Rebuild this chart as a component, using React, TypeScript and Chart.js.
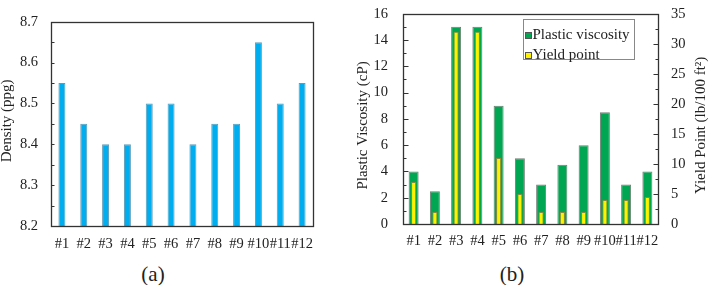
import { useEffect, useRef } from "react";
import { Chart, registerables } from "chart.js";

Chart.register(...registerables);

// Sample labels shared by both panels
const samples = ["#1", "#2", "#3", "#4", "#5", "#6", "#7", "#8", "#9", "#10", "#11", "#12"];

// Panel (a): mud density in ppg
const density = [8.55, 8.45, 8.4, 8.4, 8.5, 8.5, 8.4, 8.45, 8.45, 8.65, 8.5, 8.55];

// Panel (b): plastic viscosity (cP) and yield point (lb/100 ft²)
const plasticViscosity = [4, 2.5, 15, 15, 9, 5, 3, 4.5, 6, 8.5, 3, 4];
const yieldPoint = [7, 2, 32, 32, 11, 5, 2, 2, 2, 4, 4, 4.5];

const SERIF = "'Liberation Serif', 'DejaVu Serif', serif";
const INK = "#222";

type TickSpec = { scale: string; min: number; max: number; step: number; majorEvery: number; major: number; minor: number; side: "left" | "right" };
type TitleSpec = { text: string; side: "left" | "right"; offset: number; dy: number };
type LegendSpec = { dxLeft: number; dyTop: number; width: number; height: number; items: { text: string; color: string; border: string }[] };

// Draws the closed frame, inward tick marks, rotated axis titles and an inset legend
const framePlugin = {
  id: "frame",
  afterDraw(chart: any, _args: any, opts: any) {
    const { ctx, chartArea: a } = chart;
    ctx.save();
    ctx.strokeStyle = "#333";
    ctx.lineWidth = 1.3;
    const L = Math.round(a.left) + 0.5;
    const R = Math.round(a.right) + 0.5;
    const T = Math.round(a.top) + 0.5;
    const B = Math.round(a.bottom) + 0.5;
    ctx.strokeRect(L, T, R - L, B - T);

    ctx.lineWidth = 1;
    for (const t of (opts.ticks || []) as TickSpec[]) {
      const scale = chart.scales[t.scale];
      const n = Math.round((t.max - t.min) / t.step);
      for (let i = 1; i < n; i++) {
        const v = t.min + i * t.step;
        const y = Math.round(scale.getPixelForValue(v)) + 0.5;
        const len = i % t.majorEvery === 0 ? t.major : t.minor;
        ctx.beginPath();
        if (t.side === "left") {
          ctx.moveTo(L, y);
          ctx.lineTo(L + len, y);
        } else {
          ctx.moveTo(R, y);
          ctx.lineTo(R - len, y);
        }
        ctx.stroke();
      }
    }

    ctx.fillStyle = INK;
    ctx.font = `15px ${SERIF}`;
    ctx.textAlign = "center";
    ctx.textBaseline = "middle";
    for (const t of (opts.titles || []) as TitleSpec[]) {
      const x = t.side === "left" ? a.left - t.offset : a.right + t.offset;
      const y = (a.top + a.bottom) / 2 + t.dy;
      ctx.save();
      ctx.translate(x, y);
      ctx.rotate(-Math.PI / 2);
      ctx.fillText(t.text, 0, 0);
      ctx.restore();
    }

    const lg = opts.legend as LegendSpec | undefined;
    if (lg) {
      const bx = Math.round(a.left + lg.dxLeft) + 0.5;
      const by = Math.round(a.top + lg.dyTop) + 0.5;
      ctx.fillStyle = "#fff";
      ctx.fillRect(bx, by, lg.width, lg.height);
      ctx.strokeStyle = "#888";
      ctx.lineWidth = 1;
      ctx.strokeRect(bx, by, lg.width, lg.height);
      ctx.textAlign = "left";
      lg.items.forEach((it, i) => {
        const cy = by + 16 + i * 20;
        ctx.fillStyle = it.color;
        ctx.fillRect(bx + 2, cy - 3, 6, 6);
        ctx.strokeStyle = it.border;
        ctx.strokeRect(bx + 2, cy - 3, 6, 6);
        ctx.fillStyle = INK;
        ctx.fillText(it.text, bx + 9, cy);
      });
    }
    ctx.restore();
  },
};

const tickFont = { family: SERIF, size: 14.5 };

function DensityChart() {
  const ref = useRef<HTMLCanvasElement>(null);
  useEffect(() => {
    const chart = new Chart(ref.current!, {
      type: "bar",
      data: {
        labels: samples,
        datasets: [
          {
            data: density,
            backgroundColor: "#00aeef",
            borderColor: "#5f9cb8",
            borderWidth: 1,
            categoryPercentage: 1,
            barPercentage: 0.32,
          },
        ],
      },
      plugins: [framePlugin],
      options: {
        responsive: false,
        animation: false,
        layout: { padding: { top: 21, right: 27, left: 0, bottom: 0 } },
        scales: {
          x: {
            grid: { display: false, drawTicks: false },
            border: { display: false },
            ticks: { font: tickFont, color: INK, padding: 9, autoSkip: false, maxRotation: 0, minRotation: 0 },
            afterFit: (s: any) => { s.height = 34; },
          },
          y: {
            min: 8.2,
            max: 8.7,
            grid: { display: false, drawTicks: false },
            border: { display: false },
            ticks: { stepSize: 0.1, font: tickFont, color: INK, padding: 13, callback: (v: any) => Number(v).toFixed(1) },
            afterFit: (s: any) => { s.width = 51; },
          },
        },
        plugins: {
          legend: { display: false },
          tooltip: { enabled: false },
          frame: {
            ticks: [{ scale: "y", min: 8.2, max: 8.7, step: 0.05, majorEvery: 2, major: 3, minor: 3, side: "left" }],
            titles: [{ text: "Density (ppg)", side: "left", offset: 43.5, dy: -3 }],
          },
        } as any,
      },
    });
    return () => chart.destroy();
  }, []);
  return <canvas ref={ref} width={340} height={260} />;
}

function RheologyChart() {
  const ref = useRef<HTMLCanvasElement>(null);
  useEffect(() => {
    const chart = new Chart(ref.current!, {
      type: "bar",
      data: {
        labels: samples,
        datasets: [
          {
            label: "Plastic viscosity",
            data: plasticViscosity,
            yAxisID: "y",
            backgroundColor: "#00a651",
            borderColor: "#6f7f74",
            borderWidth: 1,
            grouped: false,
            order: 1,
            categoryPercentage: 1,
            barPercentage: 0.47,
          },
          {
            label: "Yield point",
            data: yieldPoint,
            yAxisID: "y1",
            backgroundColor: "#fff200",
            borderColor: "#8c8a3c",
            borderWidth: 1,
            grouped: false,
            order: 0,
            categoryPercentage: 1,
            barPercentage: 0.24,
          },
        ],
      },
      plugins: [framePlugin],
      options: {
        responsive: false,
        animation: false,
        layout: { padding: { top: 17, right: 0, left: 0, bottom: 0 } },
        scales: {
          x: {
            grid: { display: false, drawTicks: false },
            border: { display: false },
            ticks: { font: tickFont, color: INK, padding: 8, autoSkip: false, maxRotation: 0, minRotation: 0 },
            afterFit: (s: any) => { s.height = 36; },
          },
          y: {
            position: "left",
            min: 0,
            max: 16,
            grid: { display: false, drawTicks: false },
            border: { display: false },
            ticks: { stepSize: 2, font: tickFont, color: INK, padding: 15 },
            afterFit: (s: any) => { s.width = 63; },
          },
          y1: {
            position: "right",
            min: 0,
            max: 35,
            grid: { display: false, drawTicks: false },
            border: { display: false },
            ticks: { stepSize: 5, font: tickFont, color: INK, padding: 13 },
            afterFit: (s: any) => { s.width = 51; },
          },
        },
        plugins: {
          legend: { display: false },
          tooltip: { enabled: false },
          frame: {
            ticks: [
              { scale: "y", min: 0, max: 16, step: 1, majorEvery: 2, major: 5, minor: 3, side: "left" },
              { scale: "y1", min: 0, max: 35, step: 2.5, majorEvery: 2, major: 5, minor: 3, side: "right" },
            ],
            titles: [
              { text: "Plastic Viscosity (cP)", side: "left", offset: 40, dy: 6.5 },
              { text: "Yield Point (lb/100 ft²)", side: "right", offset: 43, dy: 6.5 },
            ],
            legend: {
              dxLeft: 120,
              dyTop: 5,
              width: 111,
              height: 40,
              items: [
                { text: "Plastic viscosity", color: "#00a651", border: "#555" },
                { text: "Yield point", color: "#fff200", border: "#555" },
              ],
            },
          },
        } as any,
      },
    });
    return () => chart.destroy();
  }, []);
  return <canvas ref={ref} width={369} height={270} />;
}

const captionStyle: React.CSSProperties = {
  position: "absolute",
  width: 40,
  textAlign: "center",
  fontFamily: SERIF,
  fontSize: 21,
  lineHeight: "22px",
  color: INK,
};

export default function App() {
  return (
    <div style={{ position: "absolute", left: 0, top: 0, width: 709, height: 285, overflow: "hidden", background: "#fff" }}>
      <div style={{ position: "absolute", left: 0, top: 0 }}>
        <DensityChart />
      </div>
      <div style={{ position: "absolute", left: 340, top: -10 }}>
        <RheologyChart />
      </div>
      <div style={{ ...captionStyle, left: 133, top: 263 }}>(a)</div>
      <div style={{ ...captionStyle, left: 492, top: 263 }}>(b)</div>
    </div>
  );
}
